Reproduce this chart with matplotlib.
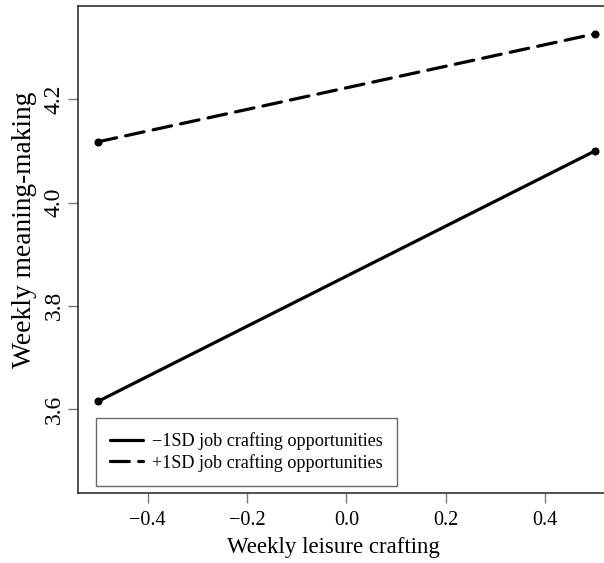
import matplotlib
matplotlib.use("Agg")
import matplotlib.pyplot as plt

plt.rcParams['font.family'] = ['Liberation Serif', 'DejaVu Serif']

# values
leisure = [-0.5, 0.5]
low_job = [3.615, 4.100]
high_job = [4.118, 4.327]
labels = ["\u22121SD job crafting opportunities", "+1SD job crafting opportunities"]
xticks = [-0.4, -0.2, 0.0, 0.2, 0.4]
yticks = [3.6, 3.8, 4.0, 4.2]

fig = plt.figure(figsize=(6.04, 5.63), dpi=100)
ax = fig.add_axes([0.1296, 0.1249, 0.888, 0.8644])

ax.plot(leisure, low_job, color='black', lw=2.3, marker='o', ms=4.8,
        solid_capstyle='round', label=labels[0])
ax.plot(leisure, high_job, color='black', lw=2.3, marker='o', ms=4.8,
        dashes=(5.9, 2.9), dash_capstyle='round', label=labels[1])

ax.set_xlim(-0.54, 0.54)
ax.set_ylim(3.438, 4.381)
ax.set_xticks(xticks)
ax.set_xticklabels([f"{v:.1f}".replace('-', '\u2212') for v in xticks])
ax.set_yticks(yticks)
ax.set_yticklabels([f"{v:.1f}" for v in yticks], rotation=90, va='center')
ax.tick_params(length=7, width=1, color='#777777')
ax.tick_params(axis='x', labelsize=14.5, pad=6)
ax.tick_params(axis='y', labelsize=17, pad=3)

for s in ax.spines.values():
    s.set_linewidth(1.1)
    s.set_color('#222222')

ax.set_xlabel("Weekly leisure crafting", fontsize=16.5)
ax.xaxis.set_label_coords(0.475, -0.113)
ax.xaxis.label.set_verticalalignment('center')
ax.set_ylabel("Weekly meaning-making", fontsize=19.8)
ax.yaxis.set_label_coords(-0.0994, 0.54)
ax.yaxis.label.set_verticalalignment('center')

leg = ax.legend(loc='lower left', bbox_to_anchor=(0.033, 0.0138), fontsize=13.1,
                frameon=True, fancybox=False, handlelength=1.8,
                borderpad=0.78, labelspacing=0.2, handletextpad=0.48,
                borderaxespad=0)
leg.get_frame().set_edgecolor('#444444')
leg.get_frame().set_linewidth(1.0)
for h in leg.get_lines():
    h.set_marker('')

fig.savefig("out.png", dpi=100)
